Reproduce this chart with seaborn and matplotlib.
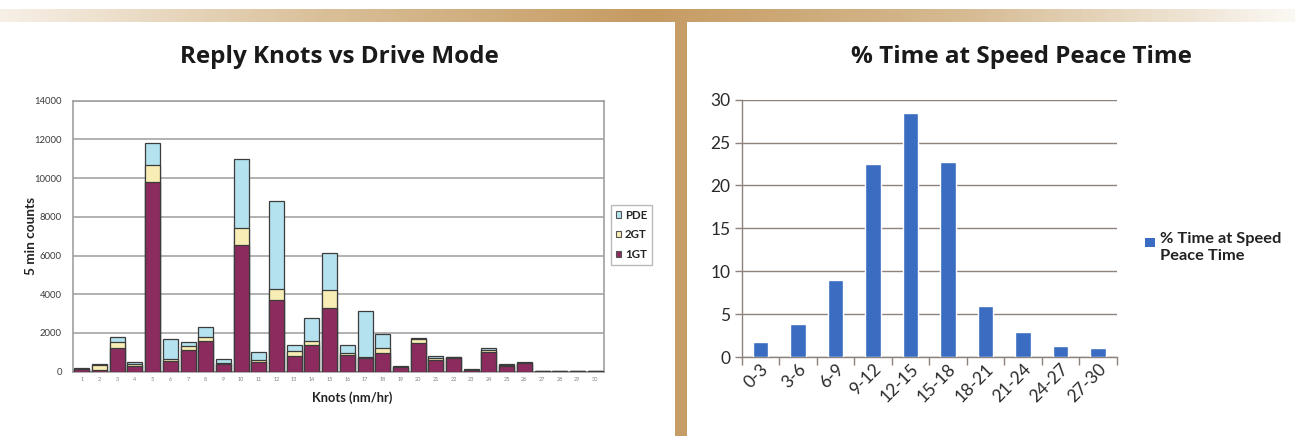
import numpy as np
import pandas as pd
import matplotlib
matplotlib.use("Agg")
import matplotlib.pyplot as plt
from matplotlib.patches import Rectangle, Patch
from matplotlib.colors import LinearSegmentedColormap
import seaborn as sns

# ---- data: counts of 5-minute samples per knot, split by drive mode ----
knots = list(range(1, 31))
gt1 = [120, 100, 1220, 320, 9800, 560, 1130, 1570, 420, 6550,
       480, 3700, 800, 1380, 3300, 860, 700, 950, 230, 1480,
       620, 700, 90, 1040, 270, 440, 30, 20, 25, 40]
gt2 = [40, 230, 310, 80, 870, 80, 210, 240, 40, 850,
       100, 570, 260, 190, 920, 110, 60, 250, 20, 220,
       100, 40, 20, 100, 80, 30, 10, 5, 10, 10]
pde = [40, 70, 260, 90, 1130, 1050, 190, 480, 210, 3600,
       420, 4530, 320, 1200, 1930, 430, 2390, 750, 20, 50,
       80, 30, 30, 110, 60, 30, 10, 5, 5, 10]
mode_labels = ["PDE", "2GT", "1GT"]

# ---- data: share of time in each speed band ----
speed_bins = ["0-3", "3-6", "6-9", "9-12", "12-15", "15-18",
              "18-21", "21-24", "24-27", "27-30"]
pct_time = [1.7, 3.9, 8.95, 22.5, 28.4, 22.7, 6.0, 2.9, 1.3, 1.0]

sns.set_style("white")
plt.rcParams["font.family"] = ["Lato", "DejaVu Sans"]

W, H = 1295, 436
fig = plt.figure(figsize=(W / 100, H / 100), dpi=100)
fig.patch.set_facecolor("white")

def fx(px):
    return px / W

def fy(py):
    return (H - py) / H

# ---- decorative banner and divider ----
band = fig.add_axes([0, fy(22), 1, 13 / H])
cmap = LinearSegmentedColormap.from_list(
    "band", ["#f7f0e6", "#d9bf98", "#c69b62", "#d6bb93", "#fbf8f3"])
band.imshow(np.linspace(0, 1, 600).reshape(1, -1), cmap=cmap,
            aspect="auto", extent=[0, 1, 0, 1])
band.set_axis_off()
fig.patches.append(Rectangle((fx(675), 0), 12 / W, fy(22), transform=fig.transFigure,
                             facecolor="#c69d66", edgecolor="none", zorder=5))

# ---- left: stacked counts by drive mode ----
C1, C2, CP = "#8b2b5e", "#f8edb4", "#b4e2ee"
EDGE = "#3c3c3c"
df = pd.DataFrame({
    "knot": [str(k) for k in knots],
    "gt1": gt1,
    "gt12": np.add(gt1, gt2),
    "total": np.add(np.add(gt1, gt2), pde),
})

axL = fig.add_axes([fx(73), fy(371.7), (604 - 73) / W, (371.7 - 100.7) / H])
for col, colr in [("total", CP), ("gt12", C2), ("gt1", C1)]:
    sns.barplot(data=df, x="knot", y=col, color=colr, saturation=1,
                width=0.85, edgecolor=EDGE, linewidth=0.9, ax=axL, zorder=3)
axL.set_ylim(0, 14000)
axL.set_yticks(np.arange(0, 14001, 2000))
axL.set_xlim(-0.5, 29.5)
axL.grid(axis="y", color="#ababab", linewidth=1.3, zorder=0)
axL.set_axisbelow(True)
for s in axL.spines.values():
    s.set_color("#a0a0a0")
    s.set_linewidth(1.2)
axL.tick_params(axis="y", length=5, width=1, color="#a0a0a0", labelsize=6.8,
                labelcolor="#3a3a3a", pad=3)
axL.tick_params(axis="x", length=2, color="#b0b0b0", labelsize=4,
                labelcolor="#808080", pad=2)
axL.set_xlabel("")
axL.set_ylabel("")

fig.text(fx(31), fy(236), "5 min counts", rotation=90, ha="center", va="center",
         fontsize=9.8, fontweight="bold", color="#222222")
fig.text(fx(352), fy(398), "Knots (nm/hr)", ha="center", va="center",
         fontsize=9.3, fontweight="bold", color="#222222")

handles = [Patch(facecolor=c, edgecolor="#555555", linewidth=0.8) for c in (CP, C2, C1)]
leg = fig.legend(handles, mode_labels, loc="upper left",
                 bbox_to_anchor=(fx(611), fy(205)), frameon=True, fancybox=False,
                 edgecolor="#a8a8a8", prop={"weight": "bold", "size": 8.3},
                 handlelength=0.5, handleheight=0.5, handletextpad=0.3,
                 labelspacing=0.75, borderpad=0.4, borderaxespad=0)
leg.get_frame().set_linewidth(1.0)

fig.text(fx(339), fy(57), "Reply Knots vs Drive Mode", ha="center", va="center",
         fontsize=17.5, fontweight="bold", family=["Open Sans", "DejaVu Sans"],
         color="#1a1a1a")

# ---- right: percentage of time per speed band ----
BLUE = "#3a6dc2"
GRID = "#8e827c"
axR = fig.add_axes([fx(741.7), fy(357), (1116.7 - 741.7) / W, (357 - 99.7) / H])
sns.barplot(x=speed_bins, y=pct_time, color=BLUE, saturation=1, width=0.41,
            ax=axR, zorder=3)
axR.set_ylim(0, 30)
axR.set_xlim(-0.5, len(speed_bins) - 0.5)
axR.set_yticks(np.arange(0, 31, 5))
axR.grid(axis="y", color=GRID, linewidth=1.0, zorder=0)
axR.set_axisbelow(True)
for side in ("top", "right"):
    axR.spines[side].set_visible(False)
for side in ("left", "bottom"):
    axR.spines[side].set_color(GRID)
    axR.spines[side].set_linewidth(1.0)
axR.set_xticks(np.arange(-0.5, len(speed_bins), 1.0), minor=True)
axR.tick_params(axis="x", which="minor", length=6, width=1, color=GRID, bottom=True)
axR.tick_params(axis="x", which="major", length=0, labelsize=12.5,
                labelcolor="#2a2a2a", pad=3)
axR.tick_params(axis="y", length=5, width=1, color=GRID, labelsize=12.5,
                labelcolor="#2a2a2a", pad=3, left=True)
plt.setp(axR.get_xticklabels(), rotation=45, ha="right", rotation_mode="anchor")
axR.set_xlabel("")
axR.set_ylabel("")

fig.patches.append(Rectangle((fx(1145), fy(247)), 10 / W, 9 / H, transform=fig.transFigure,
                             facecolor=BLUE, edgecolor="none"))
fig.text(fx(1160), fy(232), "% Time at Speed\nPeace Time", ha="left", va="top",
         fontsize=11.8, fontweight="bold", color="#222222", linespacing=1.25)

fig.text(fx(1021), fy(57), "% Time at Speed Peace Time", ha="center", va="center",
         fontsize=17.5, fontweight="bold", family=["Open Sans", "DejaVu Sans"],
         color="#1a1a1a")

fig.savefig("out.png", dpi=100, facecolor="white")
